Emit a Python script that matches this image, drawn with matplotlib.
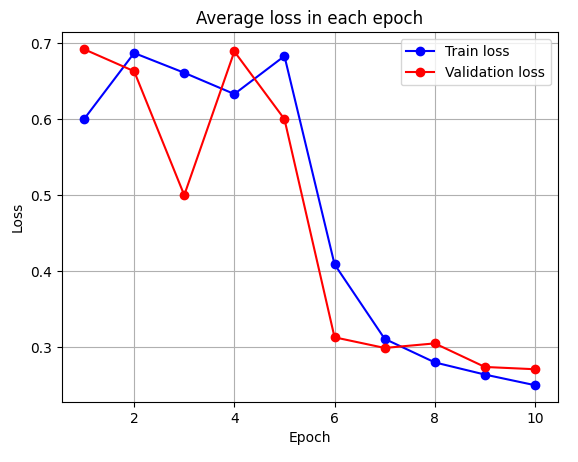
import matplotlib
matplotlib.use("Agg")
import matplotlib.pyplot as plt

epochs = [1, 2, 3, 4, 5, 6, 7, 8, 9, 10]
train_loss = [0.600, 0.687, 0.661, 0.633, 0.683, 0.409, 0.311, 0.280, 0.264, 0.250]
val_loss = [0.692, 0.663, 0.500, 0.689, 0.600, 0.313, 0.299, 0.305, 0.274, 0.271]

fig = plt.figure(figsize=(5.78, 4.62), dpi=100)
ax = fig.add_axes([61.5 / 578, 60 / 462, 496 / 578, 369.6 / 462])

ax.plot(epochs, train_loss, "o-", color="blue", label="Train loss")
ax.plot(epochs, val_loss, "o-", color="red", label="Validation loss")
ax.set_title("Average loss in each epoch")
ax.set_xlabel("Epoch")
ax.set_ylabel("Loss")
ax.grid(True)
ax.legend()

fig.savefig("out.png", dpi=100)
